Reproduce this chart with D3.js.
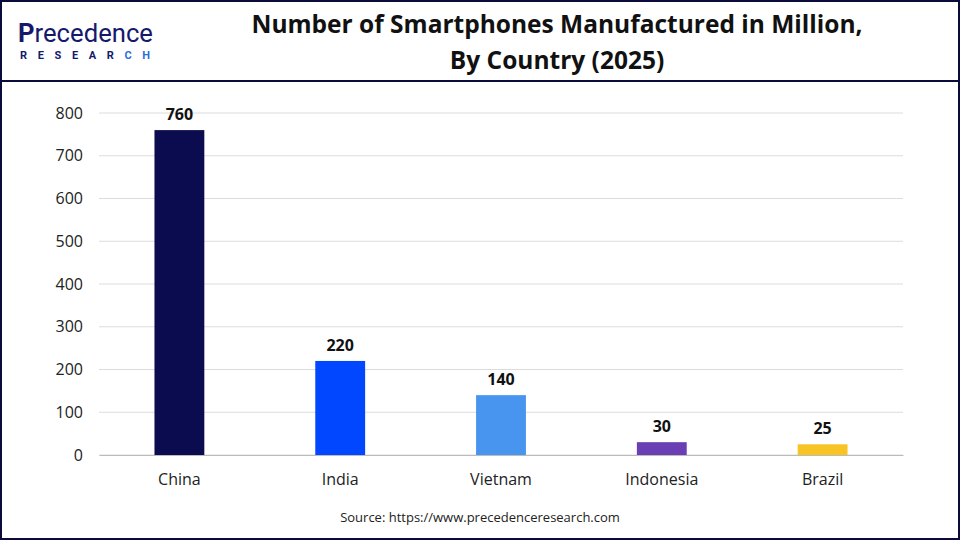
<!DOCTYPE html>
<html><head><meta charset="utf-8">
<script src="https://cdn.jsdelivr.net/npm/d3@7"></script>
<style>body{margin:0;background:#fff}svg{display:block;font-family:Roboto,Arial,sans-serif}</style>
</head><body><svg id="c" width="960" height="540"></svg>
<script>
const categories = ["China","India","Vietnam","Indonesia","Brazil"];
const values = [760,220,140,30,25];
const colors = ["#0b0b50","#0047ff","#4895ef","#6a3fb3","#f7c325"];
const yTicks = [0,100,200,300,400,500,600,700,800];

const svg = d3.select("#c");
svg.append("rect").attr("x",1).attr("y",1).attr("width",958).attr("height",538).attr("fill","#fff").attr("stroke","#0b0b3b").attr("stroke-width",2);
svg.append("line").attr("x1",0).attr("x2",960).attr("y1",81).attr("y2",81).attr("stroke","#0b0b3b").attr("stroke-width",2);

// logo
const lg = svg.append("g");
lg.append("text").attr("x",18).attr("y",42).attr("font-size",25).attr("font-weight",400).attr("fill","#15196b")
  .attr("textLength",135).attr("lengthAdjust","spacingAndGlyphs")
  .html('<tspan font-weight="700">P</tspan>recedence');
lg.append("text").attr("x",20).attr("y",59).attr("font-size",11).attr("font-weight",700).attr("fill","#15196b")
  .attr("textLength",130).attr("lengthAdjust","spacing")
  .html('RESEAR<tspan fill="#2a6de0">CH</tspan>');

const tf = "'Open Sans',Roboto,sans-serif";
svg.append("text").attr("x",557).attr("y",33).attr("text-anchor","middle").attr("font-family",tf).attr("font-size",24.5).attr("font-weight",700).attr("fill","#111").text("Number of Smartphones Manufactured in Million,");
svg.append("text").attr("x",557).attr("y",69).attr("text-anchor","middle").attr("font-family",tf).attr("font-size",24.5).attr("font-weight",700).attr("fill","#111").text("By Country (2025)");

const x = d3.scaleBand().domain(categories).range([99,903]).paddingInner(0.69).paddingOuter(0.345);
const y = d3.scaleLinear().domain([0,800]).range([455,113]);
const af = "'Open Sans',Arial,sans-serif";

const g = svg.append("g");
g.selectAll(".grid").data(yTicks).join("line").attr("x1",99).attr("x2",903)
  .attr("y1",d=>y(d)).attr("y2",d=>y(d)).attr("stroke","#dcdcdc").attr("stroke-width",1);

const ya = g.append("g").attr("transform","translate(99,0)").call(d3.axisLeft(y).tickValues(yTicks).tickSize(0).tickPadding(16));
ya.select(".domain").remove();
ya.selectAll("text").attr("font-size",16).attr("fill","#222").attr("font-family",af);

const xa = g.append("g").attr("transform","translate(0,455)").call(d3.axisBottom(x).tickSize(0).tickPadding(19));
xa.select(".domain").attr("stroke","#bbb");
xa.selectAll("text").attr("font-size",16).attr("fill","#222").attr("font-family",af);

g.selectAll(".bar").data(values).join("rect")
  .attr("x",(d,i)=>x(categories[i])).attr("width",x.bandwidth())
  .attr("y",d=>y(d)).attr("height",d=>y(0)-y(d)).attr("fill",(d,i)=>colors[i]);
g.selectAll(".lbl").data(values).join("text")
  .attr("x",(d,i)=>x(categories[i])+x.bandwidth()/2).attr("y",d=>y(d)-10)
  .attr("text-anchor","middle").attr("font-family",af).attr("font-size",16).attr("font-weight",700).attr("fill","#111").text(d=>d);

svg.append("text").attr("x",480).attr("y",522).attr("text-anchor","middle").attr("font-family",af).attr("font-size",13).attr("fill","#222").text("Source: https://www.precedenceresearch.com");
</script></body></html>
